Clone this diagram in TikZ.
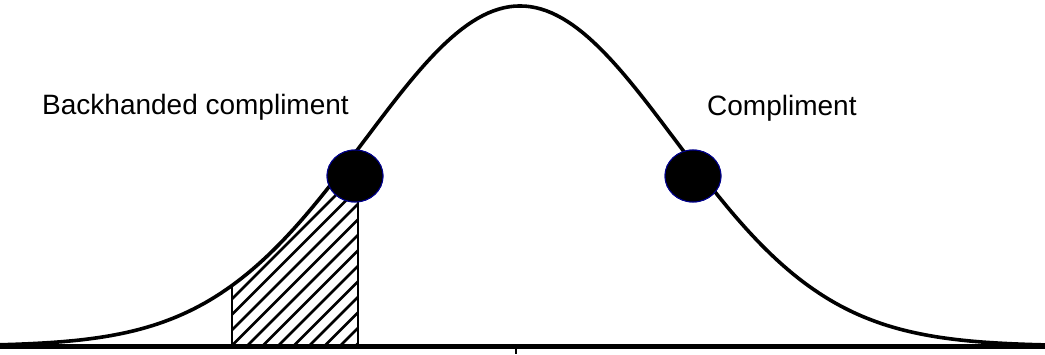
\documentclass[tikz,border=0pt]{standalone}
\usepackage{fontspec}
\setmainfont{Liberation Sans}
\usetikzlibrary{shapes.geometric}

\begin{document}
\begin{tikzpicture}[
  x=1pt, y=1pt,
  declare function={bell(\t)=8+340*exp(-0.5*((\t-520)/155)*((\t-520)/155));},
  curveline/.style={line width=3.6pt, line join=round},
  axisline/.style={line width=5pt},
  hatchline/.style={line width=2.8pt},
  dot/.style={
    ellipse, fill=black, draw=blue!55!black,
    line width=1pt, inner sep=0pt,
    minimum width=56pt, minimum height=52pt
  },
  lbl/.style={font=\fontsize{28}{34}\selectfont, inner sep=0pt, anchor=base west}
]
\useasboundingbox (0,0) rectangle (1045,354);

\coordinate (axL) at (0,8);
\coordinate (axR) at (1045,8);
\coordinate (hatchL) at (232,8);
\coordinate (hatchLtop) at (232,{bell(232)});
\coordinate (hatchR) at (358,8);
\coordinate (mid) at (516,8);
\coordinate (midlow) at (516,0);

% hatched tail
\begin{scope}
  \clip (hatchL) -- plot[domain=232:358, samples=40] (\x,{bell(\x)}) -- (hatchR) -- cycle;
  \foreach \s in {30,45.5,...,362}
    \draw[hatchline] (\s,8) -- ++(250,250);
\end{scope}

\node[dot] (lowdot) at (355,178) {};
\node[dot] (highdot) at (693,178) {};

\draw[hatchline] (hatchL) -- (hatchLtop);
\draw[hatchline] (hatchR) -- (hatchR |- lowdot.south);

\draw[curveline] plot[domain=0:1045, samples=200] (\x,{bell(\x)});
\draw[axisline] (axL) -- (axR);
\draw[line width=2.5pt] (mid) -- (midlow);

% dots on top of the curve
\node[dot] at (lowdot) {};
\node[dot] at (highdot) {};

\node[lbl] (backlbl) at (42,239) {Backhanded compliment};
\node[lbl] (complbl) at (707,238) {Compliment};

\end{tikzpicture}
\end{document}
